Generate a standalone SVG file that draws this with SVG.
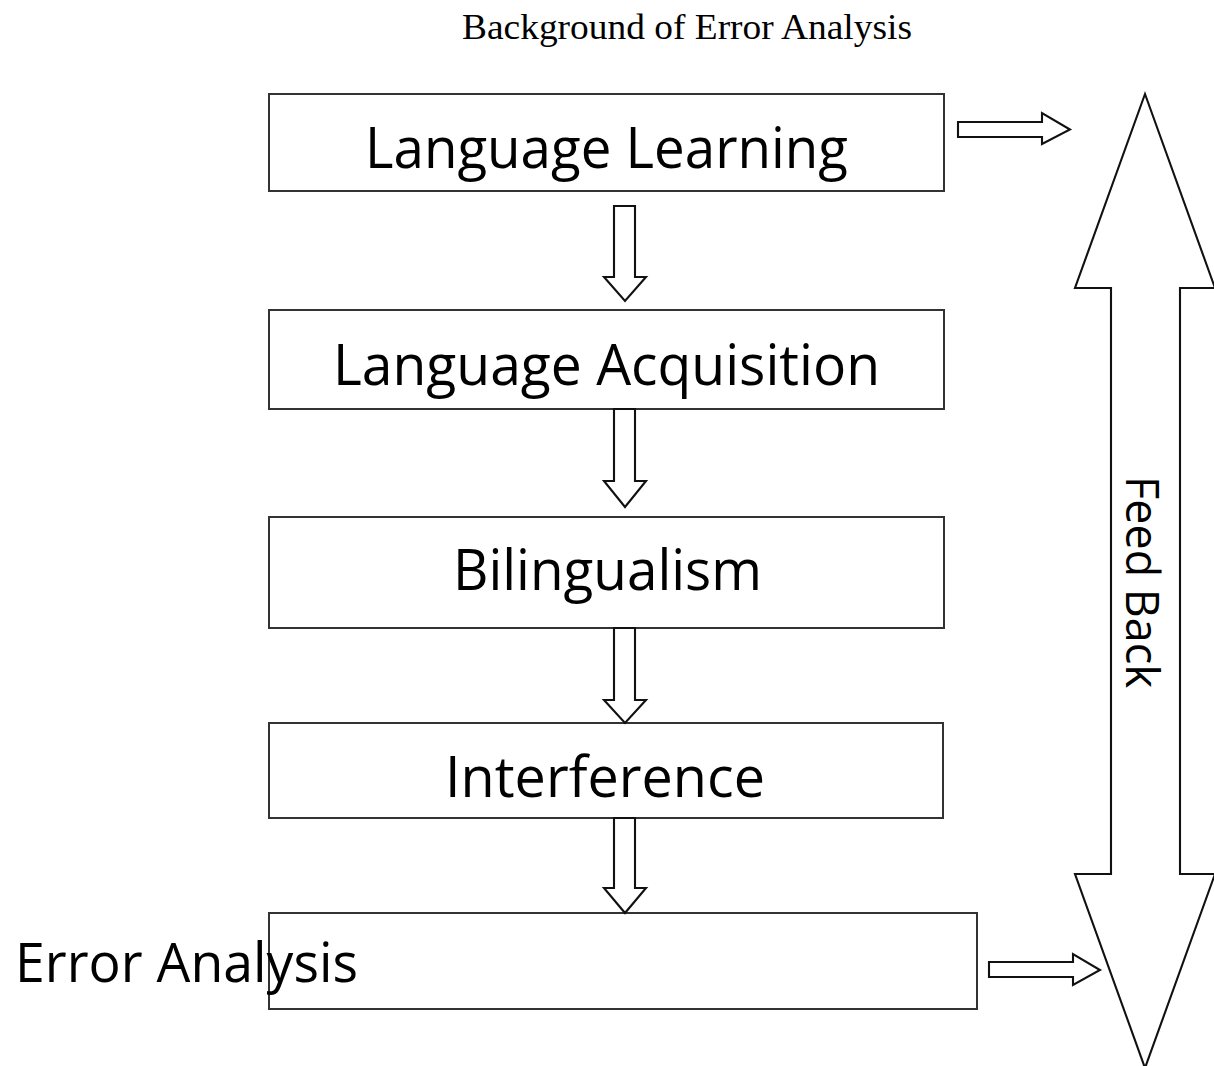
<svg xmlns="http://www.w3.org/2000/svg" width="1214" height="1066" viewBox="0 0 1214 1066">
<style>
.box{fill:#fff;stroke:#333;stroke-width:2}
.arr{fill:#fff;stroke:#111;stroke-width:2.1;stroke-linejoin:miter}
.lbl{font-family:"Open Sans","Noto Sans",sans-serif;fill:#000}
.title{font-family:"Liberation Serif","Times New Roman",serif;font-size:36px;fill:#000}
</style>
<rect width="1214" height="1066" fill="#fff"/>
<text class="title" x="462" y="38.5" textLength="450" lengthAdjust="spacingAndGlyphs">Background of Error Analysis</text>
<g id="n1"><rect class="box" x="269" y="94" width="675" height="97"/><text class="lbl" x="365" y="168" font-size="57" textLength="483" lengthAdjust="spacingAndGlyphs">Language Learning</text></g>
<g id="n2"><rect class="box" x="269" y="310" width="675" height="99"/><text class="lbl" x="333" y="385" font-size="57" textLength="547" lengthAdjust="spacingAndGlyphs">Language Acquisition</text></g>
<g id="n3"><rect class="box" x="269" y="517" width="675" height="111"/><text class="lbl" x="453" y="590" font-size="57" textLength="309" lengthAdjust="spacingAndGlyphs">Bilingualism</text></g>
<g id="n4"><rect class="box" x="269" y="723" width="674" height="95"/><text class="lbl" x="445" y="797" font-size="57" textLength="320" lengthAdjust="spacingAndGlyphs">Interference</text></g>
<g id="n5"><rect class="box" x="269" y="913" width="708" height="96"/><text class="lbl" x="15" y="982" font-size="55" textLength="343" lengthAdjust="spacingAndGlyphs">Error Analysis</text></g>
<g id="feedback"><polygon class="arr" points="1145,94 1215,288 1180,288 1180,874 1215,874 1145,1068 1075,874 1111,874 1111,288 1075,288"/><text class="lbl" transform="translate(1126,476) rotate(90)" x="0" y="0" font-size="46" textLength="212" lengthAdjust="spacingAndGlyphs">Feed Back</text></g>
<g id="connectors">
<polygon class="arr" points="614,206 635,206 635,277 646,277 625,301 604,277 614,277"/>
<polygon class="arr" points="614,409 635,409 635,481 646,481 625,507 604,481 614,481"/>
<polygon class="arr" points="614,628 635,628 635,700 646,700 625,723 604,700 614,700"/>
<polygon class="arr" points="614,818 635,818 635,888 646,888 625,913 604,888 614,888"/>
<polygon class="arr" points="958,122 1042,122 1042,113 1070,129.5 1042,144 1042,137 958,137"/>
<polygon class="arr" points="989,962 1073,962 1073,954 1100,970 1073,985 1073,977 989,977"/>
</g>
</svg>
